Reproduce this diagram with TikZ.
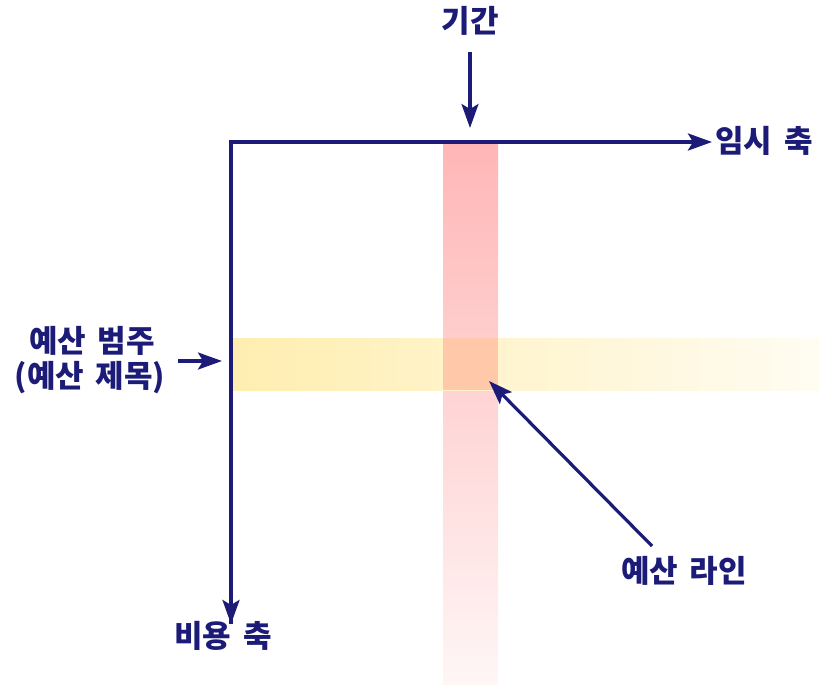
\documentclass[tikz,border=0pt]{standalone}
\usepackage{fontspec}
\setmainfont{Noto Sans CJK KR}
\usetikzlibrary{arrows.meta}
\definecolor{navy}{RGB}{28,28,120}
\definecolor{redtop}{RGB}{255,182,182}
\definecolor{redbot}{RGB}{255,246,246}
\definecolor{yelleft}{RGB}{255,238,176}
\definecolor{yelright}{RGB}{255,252,242}
\definecolor{overlap}{RGB}{255,200,168}
\newcommand{\gap}{\hspace{0.38em}}
\tikzset{
  lbl/.style={text=navy, font=\fontsize{31}{36}\selectfont\bfseries, inner sep=0pt},
  tip/.style={-{Stealth[length=24pt,width=17pt,inset=5pt]}},
  axis/.style={draw=navy, line width=3.6pt},
  pointer/.style={draw=navy, line width=3.2pt, tip}
}
\begin{document}
\begin{tikzpicture}[x=1pt,y=-1pt]
\useasboundingbox (0,0) rectangle (819,685);
% bands
\shade[top color=redtop, bottom color=redbot] (443,143) rectangle (498,685);
\shade[left color=yelleft, right color=yelright] (233,338) rectangle (819,390);
\fill[overlap] (443,338) rectangle (498,390);
% coordinates
\coordinate (origin) at (231,142);
\coordinate (xend) at (712,142);
\coordinate (yend) at (231,624);
\coordinate (periodtip) at (470,128);
\coordinate (cattip) at (222,361);
\coordinate (linetip) at (489,381);
% labels
\node[lbl] (period) at (470,21) {기간};
\node[lbl, anchor=west] (taxis) at (715,141) {임시\gap 축};
\node[lbl] (cat1) at (92,341) {예산\gap 범주};
\node[lbl] (cat2) at (90,378) {(예산\gap 제목)};
\node[lbl] (bline) at (684,571) {예산\gap 라인};
\node[lbl] (caxis) at (223,636) {비용\gap 축};
% axes
\draw[axis, tip, line join=miter] (yend) -- (origin) -- (xend);
\draw[axis, tip] (origin) -- (yend);
% pointers
\coordinate (periodstart) at (470,52);
\coordinate (catstart) at (178,361);
\coordinate (linestart) at (652,546);
\draw[pointer] (periodstart) -- (periodtip);
\draw[pointer] (catstart) -- (cattip);
\draw[pointer] (linestart) -- (linetip);
\end{tikzpicture}
\end{document}
